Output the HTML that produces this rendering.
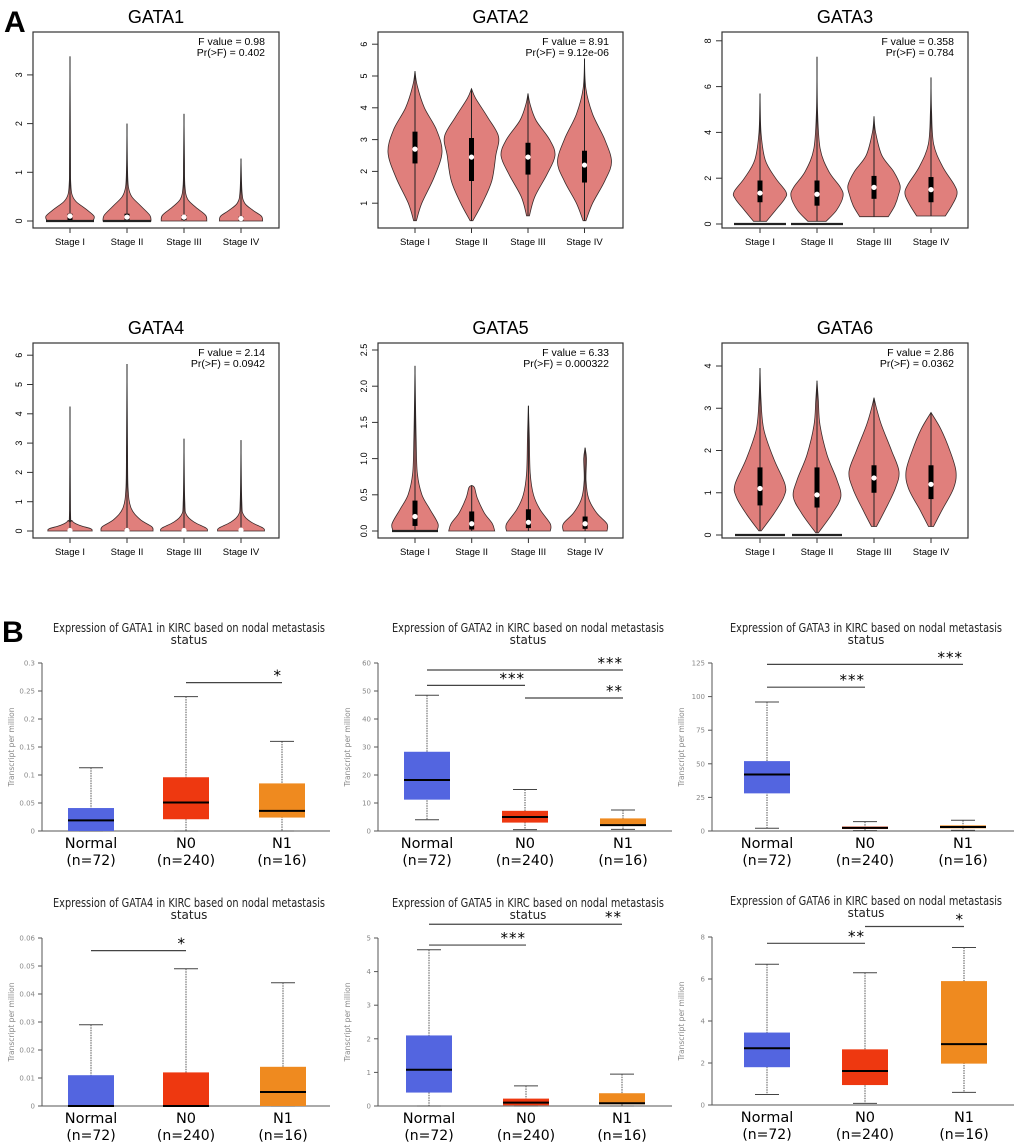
<!DOCTYPE html>
<html><head><meta charset="utf-8"><style>
html,body{margin:0;padding:0;background:#fff;}
svg{display:block;}
</style></head><body>
<svg id="fig" width="1020" height="1147" xmlns="http://www.w3.org/2000/svg" font-family="Liberation Sans, sans-serif">
<text x="4" y="32" font-size="30" font-weight="bold">A</text>
<text x="2" y="642" font-size="30" font-weight="bold">B</text>
</svg>
<script>
// ===== Violin data (values) =====
const stages = ["Stage I","Stage II","Stage III","Stage IV"];
const violinGenes = ["GATA1","GATA2","GATA3","GATA4","GATA5","GATA6"];
const fValues = ["0.98","8.91","0.358","2.14","6.33","2.86"];
const pValues = ["0.402","9.12e-06","0.784","0.0942","0.000322","0.0362"];
const violinTicks = [[0,1,2,3],[1,2,3,4,5,6],[0,2,4,6,8],[0,1,2,3,4,5,6],[0,0.5,1,1.5,2,2.5],[0,1,2,3,4]];
const violinTickLabels = [["0","1","2","3"],["1","2","3","4","5","6"],["0","2","4","6","8"],["0","1","2","3","4","5","6"],["0.0","0.5","1.0","1.5","2.0","2.5"],["0","1","2","3","4"]];
// density profiles: [value, relative density]
const densGATA1 = [
 [[0,0.95],[0.1,1],[0.25,0.65],[0.4,0.25],[0.55,0.08],[0.8,0.03],[1.2,0.02],[3.38,0]],
 [[0,1],[0.12,0.95],[0.32,0.55],[0.5,0.2],[0.7,0.06],[1.1,0.02],[2.0,0]],
 [[0,0.95],[0.12,0.9],[0.28,0.5],[0.45,0.15],[0.7,0.04],[1.2,0.02],[2.2,0]],
 [[0,0.9],[0.1,0.85],[0.22,0.5],[0.37,0.15],[0.6,0.04],[1.28,0]]];
const densGATA2 = [
 [[0.45,0.05],[1,0.25],[1.8,0.7],[2.6,1],[3.3,0.8],[4,0.35],[4.7,0.08],[5.15,0]],
 [[0.45,0.05],[1,0.4],[1.7,0.75],[2.5,0.9],[3.1,1],[3.7,0.6],[4.3,0.15],[4.6,0]],
 [[0.6,0.05],[1.2,0.25],[1.9,0.7],[2.5,1],[3.0,0.8],[3.6,0.3],[4.1,0.08],[4.45,0]],
 [[0.45,0.05],[1.0,0.3],[1.7,0.75],[2.3,1],[3.0,0.75],[3.8,0.3],[4.6,0.05],[5.55,0]]];
const densGATA3 = [
 [[0.12,0.25],[0.6,0.6],[1.1,0.95],[1.4,1],[2,0.6],[2.8,0.2],[4,0.04],[5.7,0]],
 [[0.12,0.35],[0.6,0.75],[1.2,1],[1.6,0.9],[2.3,0.45],[3.3,0.12],[5,0.02],[7.3,0]],
 [[0.32,0.55],[0.8,0.8],[1.3,0.95],[1.7,1],[2.3,0.75],[3.0,0.3],[4,0.06],[4.7,0]],
 [[0.35,0.55],[0.8,0.8],[1.3,1],[1.7,0.9],[2.5,0.45],[3.5,0.1],[5,0.02],[6.4,0]]];
const densGATA4 = [
 [[0,0.85],[0.08,0.8],[0.2,0.35],[0.35,0.08],[0.7,0.02],[4.25,0]],
 [[0,1],[0.15,0.95],[0.4,0.5],[0.8,0.15],[1.5,0.04],[3,0.02],[5.7,0]],
 [[0,0.9],[0.1,0.85],[0.3,0.4],[0.55,0.1],[1,0.03],[3.15,0]],
 [[0,0.9],[0.1,0.85],[0.3,0.4],[0.55,0.1],[1,0.03],[3.1,0]]];
const densGATA5 = [
 [[0,0.95],[0.1,1],[0.3,0.65],[0.5,0.3],[0.8,0.1],[1.3,0.05],[1.6,0.03],[2.28,0]],
 [[0,1],[0.1,0.9],[0.25,0.55],[0.45,0.25],[0.6,0.12],[0.63,0]],
 [[0,0.95],[0.1,0.95],[0.3,0.5],[0.5,0.22],[0.8,0.08],[1.3,0.04],[1.73,0]],
 [[0,0.95],[0.1,0.95],[0.25,0.5],[0.45,0.15],[0.7,0.04],[1.0,0.06],[1.15,0]]];
const densGATA6 = [
 [[0.1,0.05],[0.5,0.55],[0.9,0.95],[1.2,1],[1.8,0.55],[2.5,0.15],[3.2,0.04],[3.95,0]],
 [[0.05,0.05],[0.5,0.6],[0.9,0.95],[1.3,0.8],[1.9,0.4],[2.6,0.12],[3.2,0.05],[3.65,0]],
 [[0.2,0.1],[0.6,0.45],[1.1,0.85],[1.5,1],[2.0,0.7],[2.6,0.3],[3.0,0.1],[3.25,0]],
 [[0.2,0.1],[0.6,0.45],[1.1,0.9],[1.5,1],[2.0,0.75],[2.5,0.4],[2.9,0]]];
const violinDens = [densGATA1,densGATA2,densGATA3,densGATA4,densGATA5,densGATA6];
const violinMed = [[0.1,0.08,0.08,0.05],[2.7,2.45,2.45,2.2],[1.35,1.3,1.6,1.5],[0.02,0.02,0.02,0.03],[0.2,0.1,0.12,0.1],[1.1,0.95,1.35,1.2]];
const violinQ1 = [[0.02,0.01,0.02,0.01],[2.25,1.7,1.9,1.65],[0.95,0.8,1.1,0.95],[0,0,0,0],[0.07,0.02,0.04,0.03],[0.7,0.65,1.0,0.85]];
const violinQ3 = [[0.15,0.15,0.12,0.09],[3.25,3.05,2.9,2.65],[1.9,1.9,2.1,2.05],[0.05,0.08,0.06,0.06],[0.42,0.27,0.3,0.2],[1.6,1.6,1.65,1.65]];
const violinZeroLine = [[1,1,0,0],[0,0,0,0],[1,1,0,0],[0,0,0,0],[1,0,0,0],[1,1,0,0]];

// ===== Box plot data =====
const groups = ["Normal","N0","N1"];
const groupN = ["(n=72)","(n=240)","(n=16)"];
const boxGenes = ["GATA1","GATA2","GATA3","GATA4","GATA5","GATA6"];
const boxMax = [0.3,60,125,0.06,5,8];
const boxTicks = [[0,0.05,0.1,0.15,0.2,0.25,0.3],[0,10,20,30,40,50,60],[0,25,50,75,100,125],[0,0.01,0.02,0.03,0.04,0.05,0.06],[0,1,2,3,4,5],[0,2,4,6,8]];
const boxLo  = [[0,0,0],[4,0.5,0.6],[2,0.3,0.5],[0,0,0],[0,0,0],[0.5,0.08,0.6]];
const boxQ1  = [[0,0.021,0.024],[11.2,3,1.8],[28,1.5,2],[0,0,0],[0.4,0.02,0.05],[1.8,0.95,1.97]];
const boxMed = [[0.019,0.051,0.036],[18.2,5,2.1],[42,2.3,3],[0,0,0.005],[1.08,0.1,0.08],[2.7,1.62,2.9]];
const boxQ3  = [[0.041,0.096,0.085],[28.3,7.2,4.5],[52,3.3,4.2],[0.011,0.012,0.014],[2.1,0.22,0.38],[3.45,2.65,5.9]];
const boxHi  = [[0.113,0.24,0.16],[48.5,14.8,7.5],[96,7,8],[0.029,0.049,0.044],[4.65,0.6,0.95],[6.7,6.3,7.5]];
// significance: [fromGroup, toGroup, yValue, stars]
const sigFrom  = [[1],[0,0,1],[0,0],[0],[0,0],[0,1]];
const sigTo    = [[2],[2,1,2],[2,1],[1],[2,1],[1,2]];
const sigY     = [[0.265],[57.5,52,47.5],[124,107],[0.0555],[5.41,4.79],[7.7,8.5]];
const sigStars = [["*"],["***","***","**"],["***","***"],["*"],["**","***"],["**","*"]];

// ===== layout (not data) =====
const svg = document.getElementById('fig');
const NS = 'http://www.w3.org/2000/svg';
function mk(tag, attrs, parent){const e=document.createElementNS(NS,tag);for(const k in attrs)e.setAttribute(k,attrs[k]);(parent||svg).appendChild(e);return e;}

const vLayout = [
 {x0:33,x1:279,y0:32,y1:228,zero:221,unit:48.7,c0:70,sp:57,half:24},
 {x0:378,x1:623,y0:32,y1:228,zero:235,unit:31.8,c0:415,sp:56.5,half:27},
 {x0:722,x1:968,y0:32,y1:228,zero:224,unit:22.9,c0:760,sp:57,half:26},
 {x0:33,x1:279,y0:343,y1:538,zero:531,unit:29.3,c0:70,sp:57,half:26},
 {x0:378,x1:623,y0:343,y1:538,zero:531,unit:72.4,c0:415,sp:56.7,half:23},
 {x0:722,x1:968,y0:343,y1:538,zero:535,unit:42.25,c0:760,sp:57,half:25}];

function crPath(pts){
  let d='';
  for(let i=0;i<pts.length-1;i++){
    const p0=pts[Math.max(0,i-1)],p1=pts[i],p2=pts[i+1],p3=pts[Math.min(pts.length-1,i+2)];
    const c1=[p1[0]+(p2[0]-p0[0])/6,p1[1]+(p2[1]-p0[1])/6];
    const c2=[p2[0]-(p3[0]-p1[0])/6,p2[1]-(p3[1]-p1[1])/6];
    d+=` C${c1[0].toFixed(1)},${c1[1].toFixed(1)} ${c2[0].toFixed(1)},${c2[1].toFixed(1)} ${p2[0].toFixed(1)},${p2[1].toFixed(1)}`;
  }
  return d;
}

violinGenes.forEach((g,pi)=>{
  const L=vLayout[pi];
  const yS=v=>L.zero-v*L.unit;
  const xS=i=>L.c0+i*L.sp;
  const grp=mk('g',{});
  
  
  const t=mk('text',{x:(L.x0+L.x1)/2,y:L.y0-9,'font-size':18,'text-anchor':'middle'},grp);
  t.textContent=g;
  
  
  const fr=mk('rect',{x:L.x0,y:L.y0,width:L.x1-L.x0,height:L.y1-L.y0,fill:'none',stroke:'#333','stroke-width':1.2},grp);
  
  
  const an=mk('text',{x:L.x1-14,y:L.y0+13,'font-size':10.5,'text-anchor':'end'},grp);
  an.textContent='F value = '+fValues[pi];
  
  
  const an2=mk('text',{x:L.x1-14,y:L.y0+24,'font-size':10.5,'text-anchor':'end'},grp);
  an2.textContent='Pr(>F) = '+pValues[pi];
  
  
  violinTicks[pi].forEach((tv,ti)=>{
    const y=yS(tv);
    mk('line',{x1:L.x0-6,x2:L.x0,y1:y,y2:y,stroke:'#333'},grp);
    const tl=mk('text',{x:L.x0-11,y:y,'font-size':9,'text-anchor':'middle',transform:`rotate(-90 ${L.x0-11} ${y})`},grp);
    tl.textContent=violinTickLabels[pi][ti];
    
    
  });
  stages.forEach((s,si)=>{
    const cx=xS(si);
    mk('line',{x1:cx,x2:cx,y1:L.y1,y2:L.y1+5,stroke:'#333'},grp);
    const sl=mk('text',{x:cx,y:L.y1+17,'font-size':9.5,'text-anchor':'middle'},grp);
    sl.textContent=s;
    
    
    const dens=violinDens[pi][si];
    const right=dens.map(p=>[cx+p[1]*L.half,yS(p[0])]);
    const left=dens.map(p=>[cx-p[1]*L.half,yS(p[0])]).reverse();
    let d=`M${cx},${yS(dens[0][0]).toFixed(1)} L${right[0][0].toFixed(1)},${right[0][1].toFixed(1)}`+crPath(right)+` L${left[0][0].toFixed(1)},${left[0][1].toFixed(1)}`+crPath(left)+' Z';
    const vp=mk('path',{d:d,fill:'#e07f7c',stroke:'#3a2a2a','stroke-width':0.8},grp);
    
    
    const lo=dens[0][0],hi=dens[dens.length-1][0];
    mk('line',{x1:cx,x2:cx,y1:yS(lo),y2:yS(hi),stroke:'#222','stroke-width':1},grp);
    mk('line',{x1:cx,x2:cx,y1:yS(violinQ1[pi][si]),y2:yS(violinQ3[pi][si]),stroke:'#000','stroke-width':5},grp);
    const md=mk('circle',{cx:cx,cy:yS(violinMed[pi][si]),r:2.6,fill:'#fff'},grp);
    
    
    if(violinZeroLine[pi][si]){
      const z=mk('line',{x1:cx-L.half,x2:cx+L.half,y1:yS(0),y2:yS(0),stroke:'#222','stroke-width':2.2},grp);
      
      
    }
  });
});

const bLayout = [
 {ax0:42,ax1:330,yz:831,yt:663,cx:[91,186,282],ty:632},
 {ax0:378,ax1:672,yz:831,yt:663,cx:[427,525,623],ty:632},
 {ax0:712,ax1:1014,yz:831,yt:663,cx:[767,865,963],ty:632},
 {ax0:42,ax1:330,yz:1106,yt:938,cx:[91,186,283],ty:907},
 {ax0:378,ax1:672,yz:1106,yt:938,cx:[429,526,622],ty:907},
 {ax0:712,ax1:1014,yz:1105,yt:937,cx:[767,865,964],ty:905}];
const boxColors=['#5365e0','#ee3810','#ef8a1f'];

boxGenes.forEach((g,pi)=>{
  const L=bLayout[pi];
  const yS=v=>L.yz-(v/boxMax[pi])*(L.yz-L.yt);
  const grp=mk('g',{});
  
  
  const mid=(L.ax0+L.ax1)/2+3;
  const t1=mk('text',{x:mid,y:L.ty,'font-size':12,'text-anchor':'middle','font-family':'DejaVu Sans, sans-serif',fill:'#222',textLength:272,lengthAdjust:'spacingAndGlyphs'},grp);
  t1.textContent='Expression of '+g+' in KIRC based on nodal metastasis';
  
  
  const t2=mk('text',{x:mid,y:L.ty+12,'font-size':12,'text-anchor':'middle','font-family':'DejaVu Sans, sans-serif',fill:'#222'},grp);
  t2.textContent='status';
  
  
  mk('line',{x1:L.ax0,x2:L.ax0,y1:L.yt,y2:L.yz,stroke:'#555'},grp);
  mk('line',{x1:L.ax0,x2:L.ax1,y1:L.yz,y2:L.yz,stroke:'#555'},grp);
  const yl=mk('text',{x:L.ax0-28,y:(L.yz+L.yt)/2,'font-size':7.5,fill:'#888','text-anchor':'middle','font-family':'DejaVu Sans, sans-serif',transform:`rotate(-90 ${L.ax0-28} ${(L.yz+L.yt)/2})`},grp);
  yl.textContent='Transcript per million';
  
  
  boxTicks[pi].forEach(tv=>{
    const y=yS(tv);
    mk('line',{x1:L.ax0-4,x2:L.ax0,y1:y,y2:y,stroke:'#555'},grp);
    const tl=mk('text',{x:L.ax0-7,y:y+2.5,'font-size':7,fill:'#888','text-anchor':'end','font-family':'DejaVu Sans, sans-serif'},grp);
    tl.textContent=String(tv);
    
    
  });
  groups.forEach((gr,gi)=>{
    const cx=L.cx[gi], w=46;
    mk('line',{x1:cx,x2:cx,y1:yS(boxHi[pi][gi]),y2:yS(boxLo[pi][gi]),stroke:'#555','stroke-dasharray':'1.5,1','stroke-width':1},grp);
    mk('line',{x1:cx-12,x2:cx+12,y1:yS(boxHi[pi][gi]),y2:yS(boxHi[pi][gi]),stroke:'#444'},grp);
    mk('line',{x1:cx-12,x2:cx+12,y1:yS(boxLo[pi][gi]),y2:yS(boxLo[pi][gi]),stroke:'#444'},grp);
    const b=mk('rect',{x:cx-w/2,y:yS(boxQ3[pi][gi]),width:w,height:Math.max(0,yS(boxQ1[pi][gi])-yS(boxQ3[pi][gi])),fill:boxColors[gi]},grp);
    
    
    mk('line',{x1:cx-w/2,x2:cx+w/2,y1:yS(boxMed[pi][gi]),y2:yS(boxMed[pi][gi]),stroke:'#000','stroke-width':2},grp);
    const l1=mk('text',{x:cx,y:L.yz+17,'font-size':14.5,'text-anchor':'middle','font-family':'DejaVu Sans, sans-serif'},grp);
    l1.textContent=gr;
    
    
    const l2=mk('text',{x:cx,y:L.yz+34,'font-size':14,'text-anchor':'middle','font-family':'DejaVu Sans, sans-serif'},grp);
    l2.textContent=groupN[gi];
    
    
  });
  sigY[pi].forEach((sv,si)=>{
    const xa=L.cx[sigFrom[pi][si]], xb=L.cx[sigTo[pi][si]], y=yS(sv);
    const sl=mk('line',{x1:xa,x2:xb,y1:y,y2:y,stroke:'#444','stroke-width':1.2},grp);
    
    
    const st=mk('text',{x:xb,y:y-2,'font-size':15,'text-anchor':'end','font-family':'DejaVu Sans, sans-serif','letter-spacing':'1'},grp);
    st.textContent=sigStars[pi][si];
    
    
  });
});
</script>
</body></html>
